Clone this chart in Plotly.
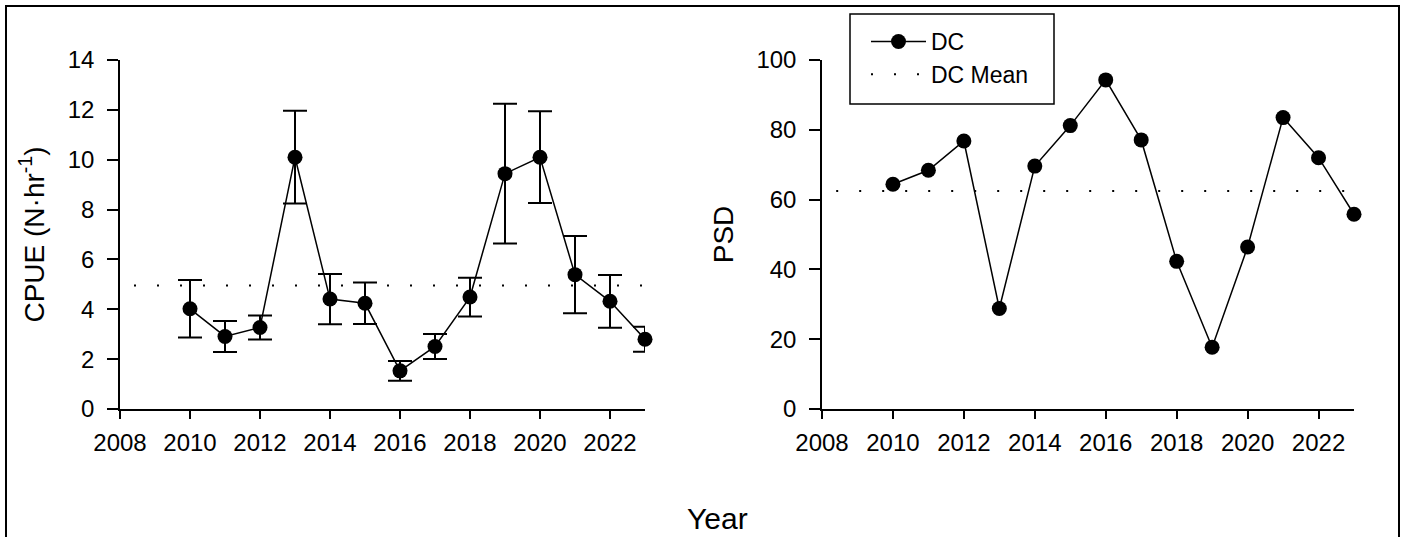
import plotly.graph_objects as go

years = [2010, 2011, 2012, 2013, 2014, 2015, 2016, 2017, 2018, 2019, 2020, 2021, 2022, 2023]
cpue = [4.02, 2.91, 3.27, 10.10, 4.41, 4.24, 1.53, 2.51, 4.49, 9.44, 10.10, 5.39, 4.32, 2.80]
cpue_err = [1.15, 0.62, 0.48, 1.86, 1.01, 0.83, 0.40, 0.50, 0.78, 2.80, 1.84, 1.55, 1.06, 0.50]
psd = [64.4, 68.4, 76.8, 28.8, 69.6, 81.2, 94.3, 77.1, 42.3, 17.7, 46.4, 83.5, 72.0, 55.8]
cpue_mean = 4.95
psd_mean = 62.5
mean_x = [2008.4, 2023]

x_ticks = [2008, 2010, 2012, 2014, 2016, 2018, 2020, 2022]
cpue_ticks = [0, 2, 4, 6, 8, 10, 12, 14]
psd_ticks = [0, 20, 40, 60, 80, 100]

W, H = 1408, 537
FONT = "Liberation Sans, Arial, sans-serif"

fig = go.Figure()

# Left panel: CPUE
fig.add_trace(go.Scatter(
    x=mean_x, y=[cpue_mean] * 2, mode="lines",
    line=dict(color="black", width=2, dash="2px,21px"),
    showlegend=False, xaxis="x", yaxis="y", hoverinfo="skip"))
fig.add_trace(go.Scatter(
    x=years, y=cpue, mode="lines+markers",
    line=dict(color="black", width=1.5),
    marker=dict(color="black", size=15),
    error_y=dict(type="data", array=cpue_err, visible=True, color="black", thickness=2, width=12),
    cliponaxis=False, showlegend=False, xaxis="x", yaxis="y"))

# Right panel: PSD
fig.add_trace(go.Scatter(
    x=years, y=psd, mode="lines+markers", name="DC",
    line=dict(color="black", width=1.5),
    marker=dict(color="black", size=15),
    cliponaxis=False, xaxis="x2", yaxis="y2"))
fig.add_trace(go.Scatter(
    x=mean_x, y=[psd_mean] * 2, mode="lines", name="DC Mean",
    line=dict(color="black", width=2, dash="2px,21px"),
    xaxis="x2", yaxis="y2", hoverinfo="skip"))

xd1 = [120 / W, 645 / W]
xd2 = [822 / W, 1354 / W]
yd = [(H - 409) / H, (H - 60) / H]

common_x = dict(range=[2008, 2023], tickvals=x_ticks, showline=True, linecolor="black", linewidth=1.5,
                ticks="outside", ticklen=8, tickwidth=1.5, tickcolor="black", showgrid=False,
                zeroline=False, automargin=False, ticklabelstandoff=3,
                tickfont=dict(size=24, color="black", family=FONT))
common_y = dict(showline=True, linecolor="black", linewidth=1.5, ticks="outside", ticklen=11,
                tickwidth=1.5, tickcolor="black", showgrid=False, zeroline=False,
                automargin=False, ticklabelstandoff=8,
                tickfont=dict(size=24, color="black", family=FONT))

fig.update_layout(
    width=W, height=H,
    margin=dict(l=0, r=0, t=0, b=0, autoexpand=False),
    paper_bgcolor="white", plot_bgcolor="white",
    font=dict(family=FONT, color="black"),
    xaxis=dict(domain=xd1, anchor="y", **common_x),
    yaxis=dict(domain=yd, anchor="x", range=[0, 14], tickvals=cpue_ticks,
               title=dict(text="CPUE (N·hr<sup>-1</sup>)", font=dict(size=28, family=FONT), standoff=15),
               **common_y),
    xaxis2=dict(domain=xd2, anchor="y2", **common_x),
    yaxis2=dict(domain=yd, anchor="x2", range=[0, 100], tickvals=psd_ticks,
                title=dict(text="PSD", font=dict(size=28, family=FONT), standoff=15),
                **common_y),
    legend=dict(x=866 / W, y=1 - 20 / H, xanchor="left", yanchor="top",
                bgcolor="rgba(0,0,0,0)", borderwidth=0, itemwidth=55,
                font=dict(size=23, color="black", family=FONT), tracegroupgap=0),
    annotations=[dict(text="Year", x=718 / W, y=1 - 518 / H, xref="paper", yref="paper",
                      showarrow=False, font=dict(size=30, family=FONT, color="black"),
                      xanchor="center", yanchor="middle")],
    shapes=[
        dict(type="rect", xref="paper", yref="paper", x0=6 / W, x1=1399 / W, y0=-0.1, y1=1 - 6 / H,
             line=dict(color="black", width=2)),
        dict(type="rect", xref="paper", yref="paper", x0=850 / W, x1=1054 / W, y0=1 - 104 / H, y1=1 - 14 / H,
             line=dict(color="black", width=1.5)),
    ],
)

fig.write_html("out.html")
